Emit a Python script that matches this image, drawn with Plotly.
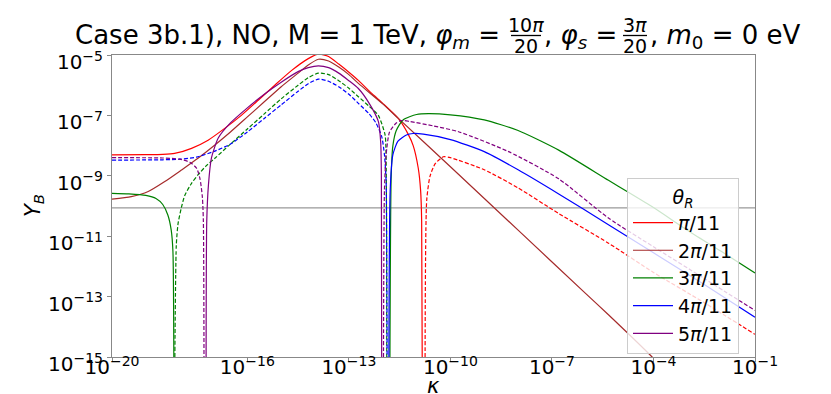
import numpy as np
import plotly.graph_objects as go

# log10(kappa) / log10(Y_B), solid = Y_B > 0, dashed = -Y_B
red_solid_k = [-20, -19, -18.5, -18.15, -17.65, -17.16, -16.67, -16.17, -15.68, -15.19, -14.69, -14.2, -13.9, -13.6, -13.3, -13.0, -12.72, -12.3, -12.0, -11.54, -11.25, -11.1, -10.95, -10.88, -10.85, -10.83]
red_solid_y = [-8.31, -8.30, -8.29, -8.26, -8.09, -7.82, -7.43, -6.99, -6.50, -6.00, -5.51, -5.12, -4.97, -5.05, -5.3, -5.57, -5.84, -6.3, -6.6, -7.1, -7.62, -8.0, -8.75, -9.5, -10.5, -16]
red_dash_k = [-10.75, -10.7, -10.6, -10.45, -10.21, -10.0, -9.0, -8.0, -6.8, -5.33, -4.0, -2.5, -1.0]
red_dash_y = [-16, -9.8, -9.0, -8.6, -8.37, -8.4, -8.8, -9.4, -10.25, -11.23, -12.2, -13.2, -14.25]

brown_k = [-20, -19.43, -18.93, -18.44, -17.95, -17.46, -16.96, -16.5, -16.0, -15.5, -15.0, -14.5, -14.2, -13.9, -13.6, -13.3, -13.0, -12.72, -12.0, -11.54, -10.0, -8.0, -6.0, -5.33, -4.04, -3.8]
brown_y = [-9.77, -9.69, -9.52, -9.19, -8.81, -8.42, -7.98, -7.55, -7.05, -6.55, -6.05, -5.6, -5.33, -5.14, -5.2, -5.4, -5.65, -5.94, -6.62, -7.1, -8.7, -10.8, -12.9, -13.6, -15.0, -15.3]

green_solid_k = [-20, -19.5, -19.0, -18.7, -18.5, -18.35, -18.25, -18.2, -18.17]
green_solid_y = [-9.58, -9.6, -9.65, -9.75, -9.95, -10.3, -10.8, -11.5, -16]
green_dash_k = [-18.15, -18.1, -18.05, -17.95, -17.85, -17.65, -17.46, -17.2, -16.96, -16.5, -16.0, -15.5, -15.0, -14.5, -14.2, -13.9, -13.6, -13.3, -13.0, -12.72, -12.4, -12.13, -11.93, -11.9, -11.88]
green_dash_y = [-16, -11.3, -10.6, -10.05, -9.65, -9.25, -8.97, -8.65, -8.42, -7.95, -7.45, -6.95, -6.45, -6.0, -5.75, -5.6, -5.65, -5.85, -6.1, -6.38, -6.7, -7.0, -7.65, -8.5, -16]
green_right_k = [-11.79, -11.75, -11.7, -11.6, -11.4, -11.0, -10.65, -10.0, -9.0, -8.0, -6.8, -5.33, -4.73, -4.0, -3.0, -2.0, -1.0]
green_right_y = [-16, -9.0, -8.0, -7.5, -7.15, -6.97, -6.94, -6.98, -7.15, -7.5, -8.15, -9.15, -9.55, -10.05, -10.8, -11.5, -12.22]

blue_dash_k = [-20, -18.5, -18.0, -17.5, -17.0, -16.5, -16.0, -15.5, -15.0, -14.5, -14.2, -13.9, -13.6, -13.3, -13.0, -12.72, -12.4, -12.2, -12.03, -11.95, -11.9, -11.87]
blue_dash_y = [-8.48, -8.47, -8.45, -8.38, -8.2, -7.95, -7.55, -7.1, -6.65, -6.2, -5.95, -5.8, -5.87, -6.05, -6.3, -6.6, -6.95, -7.25, -7.7, -8.3, -9.2, -16]
blue_solid_k = [-11.82, -11.78, -11.7, -11.55, -11.3, -11.1, -10.8, -10.0, -9.0, -8.0, -6.8, -5.33, -4.0, -2.5, -1.0]
blue_solid_y = [-16, -9.5, -8.3, -7.85, -7.65, -7.6, -7.62, -7.8, -8.2, -8.8, -9.6, -10.62, -11.55, -12.6, -13.68]

purple_dash_k = [-20, -18.5, -18.0, -17.7, -17.5, -17.4, -17.33, -17.3, -17.28]
purple_dash_y = [-8.40, -8.41, -8.45, -8.55, -8.75, -9.1, -9.7, -10.5, -16]
purple_solid_k = [-17.22, -17.2, -17.15, -17.06, -16.86, -16.5, -16.0, -15.5, -15.0, -14.5, -14.2, -13.9, -13.6, -13.3, -13.0, -12.72, -12.4, -12.13, -12.06, -12.04, -12.03]
purple_solid_y = [-16, -10.5, -9.3, -8.4, -7.75, -7.25, -6.75, -6.3, -5.9, -5.55, -5.42, -5.36, -5.42, -5.6, -5.85, -6.11, -6.6, -7.2, -7.9, -9.0, -16]
purple_right_k = [-11.98, -11.95, -11.9, -11.8, -11.6, -11.45, -11.2, -10.5, -9.76, -8.28, -6.8, -5.33, -4.0, -2.5, -1.0]
purple_right_y = [-16, -9.5, -8.3, -7.55, -7.25, -7.17, -7.2, -7.35, -7.54, -8.2, -9.1, -10.4, -11.35, -12.4, -13.46]

Y_obs = 8.7e-11

labels = ["<i>π</i>/11", "2<i>π</i>/11", "3<i>π</i>/11", "4<i>π</i>/11", "5<i>π</i>/11"]
colors = ["red", "brown", "green", "blue", "purple"]

# (k, y, dashed) pieces per theta_R
pieces = [
    [(red_solid_k, red_solid_y, False), (red_dash_k, red_dash_y, True)],
    [(brown_k, brown_y, False)],
    [(green_solid_k, green_solid_y, False), (green_dash_k, green_dash_y, True), (green_right_k, green_right_y, False)],
    [(blue_dash_k, blue_dash_y, True), (blue_solid_k, blue_solid_y, False)],
    [(purple_dash_k, purple_dash_y, True), (purple_solid_k, purple_solid_y, False), (purple_right_k, purple_right_y, True)],
]

# plot area in pixels
L, R, T, B = 104, 747, 47, 349
W, H = 831, 394


def px(x):
    return (x - L) / (R - L)


def py(y):
    return (B - y) / (B - T)


fig = go.Figure()

fig.add_trace(go.Scatter(x=[1e-20, 1e-1], y=[Y_obs, Y_obs], mode="lines",
                         line=dict(color="#999999", width=1.3), showlegend=False, hoverinfo="skip"))

for i, group in enumerate(pieces):
    first_solid = True
    for k, y, dashed in group:
        show = (not dashed) and first_solid
        if show:
            first_solid = False
        fig.add_trace(go.Scatter(
            x=10.0 ** np.array(k), y=10.0 ** np.array(y), mode="lines",
            line=dict(color=colors[i], width=1.2, dash="4px,2px" if dashed else "solid", shape="spline", smoothing=0.6),
            name=labels[i], legendgroup=labels[i], showlegend=show,
        ))

font = "DejaVu Sans"
axis_common = dict(type="log", showline=True, mirror=True, linecolor="#888888", linewidth=1, automargin=False,
                   showgrid=False, zeroline=False, ticks="outside", ticklen=4, tickcolor="#888888",
                   tickfont=dict(family=font, size=20, color="black"))

xt = [-20, -16, -13, -10, -7, -4, -1]
yt = [-15, -13, -11, -9, -7, -5]
fig.update_xaxes(range=[-20, -1], tickvals=[10.0 ** v for v in xt],
                 ticktext=[f"10<sup>−{-v}</sup>" for v in xt], ticklabelstandoff=-12, **axis_common)
fig.update_yaxes(range=[-15, -5], tickvals=[10.0 ** v for v in yt],
                 ticktext=[f"10<sup>−{-v}</sup>" for v in yt], ticklabelshift=7, **axis_common)

ann = []
ann.append(dict(text="<i>κ</i>", x=px(425), y=py(391), yanchor="bottom", borderpad=0, font=dict(size=21)))
ann.append(dict(text="<i>Y<sub>B</sub></i>", x=px(26), y=py(198), textangle=-90, font=dict(size=21)))

# title, with stacked fractions
ann.append(dict(text="Case 3b.1), NO, M = 1 TeV, <i>φ<sub>m</sub></i> =", x=px(494), y=py(28),
                xanchor="right", font=dict(size=26)))
ann.append(dict(text="10<i>π</i>", x=px(518), y=py(17), font=dict(size=19)))
ann.append(dict(text="20", x=px(518), y=py(38), font=dict(size=19)))
ann.append(dict(text=", <i>φ<sub>s</sub></i> =", x=px(610), y=py(28), xanchor="right", borderpad=0, font=dict(size=26)))
ann.append(dict(text="3<i>π</i>", x=px(627), y=py(17), font=dict(size=19)))
ann.append(dict(text="20", x=px(627), y=py(38), font=dict(size=19)))
ann.append(dict(text=", <i>m</i><sub>0</sub> = 0 eV", x=px(640), y=py(28), xanchor="left", font=dict(size=26)))

for a in ann:
    a.update(xref="paper", yref="paper", showarrow=False)
    a.setdefault("xanchor", "center")
    a.setdefault("yanchor", "middle")
    a["font"].update(family=font, color="black")

shapes = [
    dict(type="line", xref="paper", yref="paper", x0=px(503), x1=px(533), y0=py(27.5), y1=py(27.5),
         line=dict(color="black", width=1.3)),
    dict(type="line", xref="paper", yref="paper", x0=px(615), x1=px(639), y0=py(27.5), y1=py(27.5),
         line=dict(color="black", width=1.3)),
]

fig.update_layout(
    width=W, height=H,
    margin=dict(l=L, r=W - R, t=T, b=H - B),
    plot_bgcolor="white", paper_bgcolor="white",
    font=dict(family=font, color="black"),
    annotations=ann, shapes=shapes,
    legend=dict(title=dict(text="<i>θ<sub>R</sub></i>", side="top center", font=dict(size=19)),
                x=px(731), xanchor="right", y=py(170), yanchor="top",
                bgcolor="rgba(255,255,255,0.8)", bordercolor="#cccccc", borderwidth=1,
                font=dict(family=font, size=19), itemwidth=40, tracegroupgap=0),
)

fig.write_html("out.html")
